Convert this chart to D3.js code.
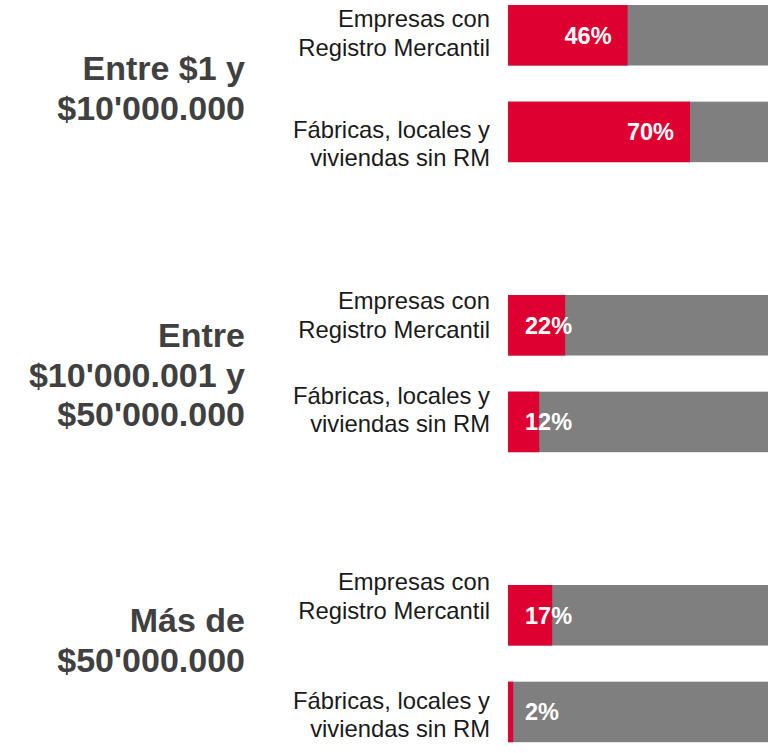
<!DOCTYPE html>
<html>
<head>
<meta charset="utf-8">
<script src="https://cdn.jsdelivr.net/npm/d3@7"></script>
<style>
  html, body { margin: 0; padding: 0; background: #ffffff; }
  svg { display: block; }
</style>
</head>
<body>
<svg id="chart" width="775" height="753"></svg>
<script>
// ---------- DATA ----------
const groups = [
  ["Entre $1 y", "$10'000.000"],
  ["Entre", "$10'000.001 y", "$50'000.000"],
  ["Más de", "$50'000.000"]
];
const categories = [
  ["Empresas con", "Registro Mercantil"],
  ["Fábricas, locales y", "viviendas sin RM"]
];
// share (%) per group, per category
const values = [
  [46, 70],
  [22, 12],
  [17, 2]
];
const total = 100;

// ---------- LAYOUT ----------
const RED = "#dd0031", GRAY = "#7f7f7f";
const FONT = "'Liberation Sans', Arial, sans-serif";
const barX0 = 508, barX1 = 768;
const slotsPerGroup = 3;              // two bars + one empty slot
const nSlots = groups.length * slotsPerGroup - 1;
// first-line baseline of each category label, measured from its bar top (layout)
const catLabelOff = [[22, 36], [14, 12], [5, 27]];
const groupLabelBase = [80, 347, 632];

const svg = d3.select("#chart");

const x = d3.scaleLinear().domain([0, total]).range([barX0, barX1]);
const y = d3.scaleBand()
  .domain(d3.range(nSlots))
  .range([5, 742.2])
  .paddingInner(0.374)
  .paddingOuter(0);

const rows = [];
values.forEach((vals, gi) => {
  vals.forEach((v, ci) => {
    rows.push({ gi, ci, v, slot: gi * slotsPerGroup + ci });
  });
});

// gray full bars
svg.append("g").selectAll("rect").data(rows).join("rect")
  .attr("x", x(0))
  .attr("y", d => y(d.slot))
  .attr("width", x(total) - x(0))
  .attr("height", y.bandwidth())
  .attr("fill", GRAY);

// red value bars
svg.append("g").selectAll("rect").data(rows).join("rect")
  .attr("x", x(0))
  .attr("y", d => y(d.slot))
  .attr("width", d => x(d.v) - x(0))
  .attr("height", y.bandwidth())
  .attr("fill", RED);

// value labels
svg.append("g").selectAll("text").data(rows).join("text")
  .attr("y", d => y(d.slot) + y.bandwidth() / 2 + 8.5)
  .attr("font-family", FONT)
  .attr("font-weight", "bold")
  .attr("font-size", 23.5)
  .attr("fill", "#ffffff")
  .text(d => d.v + "%")
  .each(function (d) {
    const w = this.getComputedTextLength();
    const start = Math.max(x(0) + 17, x(d.v) - 16 - w);
    d3.select(this).attr("x", start);
  });

// category labels
const catG = svg.append("g")
  .attr("font-family", FONT)
  .attr("font-size", 23.8)
  .attr("fill", "#1a1a1a")
  .attr("text-anchor", "end");
rows.forEach(d => {
  const lines = categories[d.ci];
  const lh = 28.5;
  const b0 = y(d.slot) + catLabelOff[d.gi][d.ci];
  const t = catG.append("text");
  lines.forEach((ln, i) => {
    t.append("tspan").attr("x", 490).attr("y", b0 + i * lh).text(ln);
  });
});

// group labels
const grpG = svg.append("g")
  .attr("font-family", FONT)
  .attr("font-weight", "bold")
  .attr("font-size", 34)
  .attr("fill", "#404040")
  .attr("text-anchor", "end");
groups.forEach((lines, gi) => {
  const lh = 39.5;
  const t = grpG.append("text");
  lines.forEach((ln, i) => {
    t.append("tspan").attr("x", 245).attr("y", groupLabelBase[gi] + i * lh).text(ln);
  });
});
</script>
</body>
</html>
